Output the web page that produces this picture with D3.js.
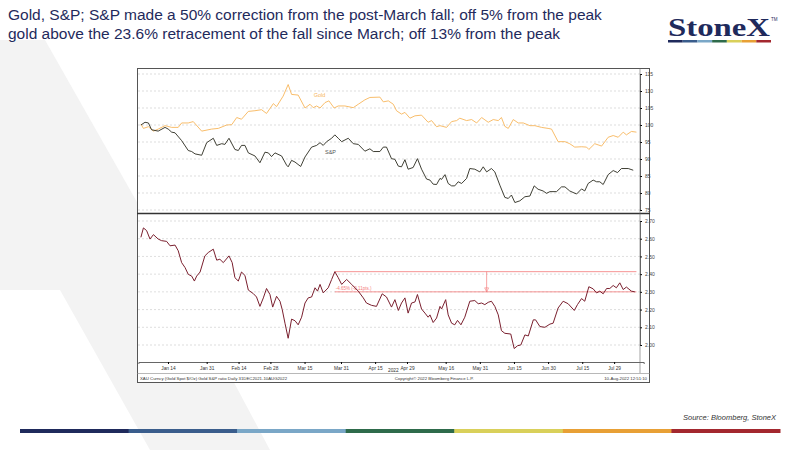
<!DOCTYPE html>
<html><head><meta charset="utf-8">
<script src="https://cdn.jsdelivr.net/npm/d3@7"></script>
<style>body{margin:0;background:#fff;font-family:Arial,"Liberation Sans",sans-serif}</style>
</head><body>
<script>
// days since 1 Jan 2022
const goldDays = [1.1,2.2,4.4,6.6,8.7,11.7,14.6,17.5,19,21.9,24.1,27.8,32.2,35.1,38.8,41,43.2,45.3,48.3,51.2,54.1,56.3,59.3,60.7,63.6,65.8,67.3,70.2,73.2,75.4,76.8,78.3,79.8,82,83.7,86,87.8,90.7,94.4,96.6,99.5,101.7,106.1,107.6,109.8,112,113.4,115.6,117.1,119.3,121.5,124.4,127.3,128.8,131,132.5,135.4,137.6,139.8,141.2,144.2,146.4,148.6,150.8,153.7,155.9,158.1,159.5,161,162.5,164.7,166.9,169.1,172,174.2,177.1,180,181.5,184.4,187.4,189.5,191.7,194.7,196.9,197.9,200.5,203.5,206.4,208.6,210.8,213,214.4,216.6,218.8];
const goldVals = [100.3,99,99.5,98.2,98.8,99.8,99.3,99.3,100.6,100.6,101,98.2,98.8,99,100,100.1,102.2,101.7,104,104.2,104.5,103.4,106.3,105.4,108.5,111.9,109,108.8,105,106.1,105.1,105.6,105,106.6,107.1,105,105.6,105.6,105.1,106.1,107.4,108.1,108.2,106.8,107.1,106.1,104.2,103.2,103.7,102,102.7,102.9,100.8,101.3,99.5,99.8,99.3,101,101.3,102,101.3,101.6,100.6,102.2,100.8,101.6,101.3,102.2,99.6,99,101.6,100.6,100.6,99.8,99.8,99.3,99,98.8,95.1,95.1,94.5,93.5,93.6,93.5,92.8,94.5,93.8,96.4,96.9,96.4,97.9,97.1,98.1,97.9];
const spxDays = [1.1,2.9,4.4,5.8,8.7,11.7,13.1,14.6,16.1,19,21.9,23.4,24.9,27.8,30,32.9,34.4,36.6,38,39.8,42.4,43.9,45.3,46.8,48.3,51.2,53.4,55.6,57.1,58.5,60,62.9,65.1,65.8,67.3,68.8,71.3,73.2,76.1,78.3,79.8,81.2,82.7,84.9,86.3,87.8,89.3,92.2,94.4,96.6,99.5,101.7,103.2,106.1,107.6,109,111.2,112.7,114.2,115.6,117.1,118.5,120.7,122.6,124.4,126.6,128.1,129.5,131,132.5,133.2,134.7,136.1,137.6,139,140.5,142,144.2,145.6,147.8,150,151.5,153,155.1,156.6,158.8,161,162.5,163.9,165.4,167.6,169.8,172,173.9,175.6,177.8,179.3,180.8,183.7,185.9,187.4,189.5,192.5,194.7,196.1,197.6,199.8,201.3,202.7,204.2,206.4,208.6,210.5,212.2,215.2,217.4];
const spxVals = [100,100.8,100.6,98.6,98.2,99.3,98.8,97.9,97.7,95.4,92.5,92.2,91.5,91.1,94.8,96.1,94,94.5,94.3,96.1,92.8,92.5,94,94,91.8,90.9,88.9,92,91.8,90.7,91.8,90.9,88.2,87.7,89.6,89.1,87.8,90.6,93.5,94,94.8,94,95.1,96.1,97.1,96.1,95.1,96.1,94.5,94.3,92.3,93,92.2,92.2,93.5,93.5,90.1,89.9,87.9,87.7,89.8,87,87.5,90.1,87,84.1,83.8,82.6,82.5,84.3,84,85.4,82.8,82.1,82.1,83.3,82.8,84.3,87.2,87,86.2,87.7,86.2,87.2,86.2,82.3,78.7,78.4,79.4,77.2,77.7,78.9,79.1,82.1,81.1,80.6,79.9,80.4,80.4,81.8,81.8,80.6,79.7,81.2,80.6,82.8,83.8,83.3,83.3,82.5,85.4,86.6,86,87.2,87.2,86.7];
const ratioDays = [1.1,2.2,3.6,5.1,6.6,8.7,10.2,12.4,13.9,16.1,17.5,19,20.5,21.9,23.4,24.6,25.6,27.1,29.2,30.7,32.9,34.4,35.8,37.3,39.8,41.2,42.4,43.9,45.3,46.8,48.3,50.5,51.9,53.4,54.9,56.3,57.8,59,60.7,62.2,63.2,64.4,65.8,67.3,68.8,70.2,71.7,73.2,74.6,76.1,77.6,78.7,79.8,81.2,83.4,84.9,86.3,87.8,89.3,91.5,93.7,96.6,98.8,100.2,102.4,104.6,107.1,109,111.2,112.7,114.2,115.6,117.1,118.5,120,121.5,122.6,124.4,125.9,127.3,128.1,129.5,131,132.5,133.2,135,136.1,137.6,139,140.2,141.7,143.4,145.6,147.8,149.3,150.8,152.2,153.7,155.1,156.6,158.1,159.5,161,163.6,165.1,166.6,168,169.8,171.3,173.5,174.5,176.4,178.6,180.8,182.2,184.4,186.6,188.8,191.5,192.9,194.7,196.1,197.9,199.8,201.3,202.7,204.2,205.7,207.1,208.6,210,211.5,213,214.4,216.6,218.1];
const ratioVals = [2.608,2.661,2.646,2.598,2.623,2.598,2.589,2.585,2.56,2.564,2.532,2.465,2.437,2.399,2.389,2.361,2.389,2.412,2.503,2.522,2.541,2.479,2.484,2.465,2.503,2.465,2.38,2.361,2.412,2.393,2.31,2.29,2.271,2.218,2.266,2.319,2.285,2.214,2.275,2.247,2.199,2.123,2.038,2.146,2.137,2.114,2.157,2.237,2.266,2.271,2.323,2.304,2.342,2.294,2.323,2.37,2.414,2.38,2.342,2.37,2.342,2.304,2.266,2.237,2.224,2.218,2.289,2.271,2.214,2.256,2.195,2.237,2.266,2.18,2.237,2.243,2.285,2.203,2.18,2.157,2.17,2.127,2.152,2.218,2.203,2.256,2.17,2.123,2.114,2.139,2.114,2.157,2.247,2.251,2.233,2.237,2.228,2.241,2.247,2.218,2.17,2.081,2.066,2.062,1.98,1.996,2.0,2.057,2.051,2.142,2.142,2.104,2.1,2.118,2.123,2.209,2.247,2.233,2.195,2.228,2.262,2.247,2.329,2.317,2.294,2.304,2.289,2.319,2.319,2.336,2.323,2.351,2.313,2.327,2.304,2.30];
const tickDays = [13,30,44,58,73,89,104,118,135,150,165,180,195,209];
const tickLabels = ["Jan 14","Jan 31","Feb 14","Feb 28","Mar 15","Mar 31","Apr 15","Apr 29","May 16","May 31","Jun 15","Jun 30","Jul 15","Jul 29"];
const topTicks = [75,80,85,90,95,100,105,110,115];
const botTicks = [2.0,2.1,2.2,2.3,2.4,2.5,2.6,2.7];
const retrace = {fromDay: 86.3, toDay: 218.8, high: 2.414, low: 2.30, arrowDay: 153};
const barColors = ["#1f2a5c","#3a5d8c","#7aa7c7","#2e6b4b","#d9d05a","#e8a035","#a3282f"];

const W = 800, H = 450;
const svg = d3.select("body").append("svg").attr("width", W).attr("height", H);

// background chevron
svg.append("polygon").attr("points","0,40 45,40 150,225 0,225").attr("fill","#f3f3f3");
svg.append("polygon").attr("points","0,225 150,225 270,450 150,450 60,290 0,290").attr("fill","#f3f3f3");

svg.append("text").attr("x",8).attr("y",20).attr("font-size",15.5).attr("fill","#1f2a5c")
  .text("Gold, S&P; S&P made a 50% correction from the post-March fall; off 5% from the peak");
svg.append("text").attr("x",8).attr("y",39).attr("font-size",15.5).attr("fill","#1f2a5c")
  .text("gold above the 23.6% retracement of the fall since March; off 13% from the peak");

// logo
svg.append("text").attr("x",668).attr("y",36).attr("font-family","Liberation Serif,serif")
  .attr("font-weight","bold").attr("font-size",25).attr("textLength",102).attr("lengthAdjust","spacingAndGlyphs")
  .attr("fill","#1f2a5c").text("StoneX");
svg.append("text").attr("x",771).attr("y",21).attr("font-size",4.5).attr("fill","#1f2a5c").text("TM");
const lx = d3.scaleBand().domain(d3.range(7)).range([668,771]);
svg.selectAll(".lb").data(barColors).enter().append("rect")
  .attr("x",(d,i)=>lx(i)).attr("y",40).attr("width",lx.bandwidth()).attr("height",2.5).attr("fill",d=>d);

// bottom bar
const bx = d3.scaleBand().domain(d3.range(7)).range([20,780]);
svg.selectAll(".bb").data(barColors).enter().append("rect")
  .attr("x",(d,i)=>bx(i)).attr("y",429).attr("width",bx.bandwidth()+0.5).attr("height",4).attr("fill",d=>d);
svg.append("text").attr("x",776).attr("y",420).attr("text-anchor","end").attr("font-size",7.5)
  .attr("font-style","italic").attr("fill","#333").text("Source: Bloomberg, StoneX");

// chart frame
svg.append("rect").attr("x",137.5).attr("y",68.5).attr("width",512).attr("height",314).attr("fill","#fff").attr("stroke","#555");
svg.append("line").attr("x1",137).attr("x2",650).attr("y1",213.5).attr("y2",213.5).attr("stroke","#333").attr("stroke-width",1.5);
svg.append("line").attr("x1",137).attr("x2",650).attr("y1",373.5).attr("y2",373.5).attr("stroke","#888").attr("stroke-width",0.6);

const x = d3.scaleLinear().domain([0,222]).range([138.4,643.7]);
const yTop = d3.scaleLinear().domain([75,115]).range([210,74]);
const yBot = d3.scaleLinear().domain([2.0,2.7]).range([345,221]);
const axisX = 640;

function grid(scale, ticks, fmt) {
  const g = svg.append("g");
  g.selectAll("line").data(ticks).enter().append("line")
    .attr("x1",138).attr("x2",axisX).attr("y1",d=>scale(d)).attr("y2",d=>scale(d))
    .attr("stroke","#c8c8c8").attr("stroke-width",0.6).attr("stroke-dasharray","2,2");
  const ax = svg.append("g").attr("transform",`translate(${axisX},0)`)
    .call(d3.axisRight(scale).tickValues(ticks).tickSize(2).tickFormat(fmt));
  ax.select(".domain").attr("stroke","#666");
  ax.selectAll("text").attr("font-size",5).attr("fill","#444");
}
grid(yTop, topTicks, d3.format("d"));
grid(yBot, botTicks, d3.format(".2f"));
svg.append("line").attr("x1",axisX).attr("x2",axisX).attr("y1",68).attr("y2",373).attr("stroke","#666").attr("stroke-width",0.6);

const line = (days, yScale) => d3.line().x((d,i)=>x(days[i])).y(d=>yScale(d));
svg.append("path").datum(goldVals).attr("d",line(goldDays,yTop)).attr("fill","none").attr("stroke","#f7b55a").attr("stroke-width",0.9);
svg.append("path").datum(spxVals).attr("d",line(spxDays,yTop)).attr("fill","none").attr("stroke","#2a2a1e").attr("stroke-width",0.9);
svg.append("text").attr("x",x(77)).attr("y",yTop(108.3)).attr("font-size",5.5).attr("fill","#f7b55a").text("Gold");
svg.append("text").attr("x",x(82)).attr("y",yTop(91.5)).attr("font-size",5.5).attr("fill","#555").text("S&P");

// retracement
["high","low"].forEach(k => svg.append("line").attr("x1",x(retrace.fromDay)).attr("x2",x(retrace.toDay))
  .attr("y1",yBot(retrace[k])).attr("y2",yBot(retrace[k])).attr("stroke","#f47a7a").attr("stroke-width",0.8));
svg.append("line").attr("x1",x(retrace.arrowDay)).attr("x2",x(retrace.arrowDay))
  .attr("y1",yBot(retrace.high)).attr("y2",yBot(retrace.low)).attr("stroke","#f47a7a").attr("stroke-width",0.7);
svg.append("path").attr("d",`M${x(retrace.arrowDay)-2},${yBot(retrace.low)-4}L${x(retrace.arrowDay)+2},${yBot(retrace.low)-4}L${x(retrace.arrowDay)},${yBot(retrace.low)}Z`)
  .attr("fill","none").attr("stroke","#f47a7a").attr("stroke-width",0.6);
svg.append("text").attr("x",x(retrace.fromDay)+1).attr("y",yBot(retrace.low)-1.5).attr("font-size",4.5).attr("fill","#f47a7a")
  .text("-4.65% (-0.11pts.)");

svg.append("path").datum(ratioVals).attr("d",line(ratioDays,yBot)).attr("fill","none").attr("stroke","#7a1f2e").attr("stroke-width",1);

// x axis
const xa = svg.append("g").attr("transform","translate(0,362)")
  .call(d3.axisBottom(x).tickValues(tickDays).tickSize(2).tickFormat((d,i)=>tickLabels[i]));
xa.select(".domain").attr("stroke","#666");
xa.selectAll("text").attr("font-size",4.8).attr("fill","#333");
svg.append("text").attr("x",x(112)).attr("y",372).attr("text-anchor","middle").attr("font-size",4.8).attr("fill","#333").text("2022");
svg.append("text").attr("x",140).attr("y",379.5).attr("font-size",4.3).attr("fill","#333")
  .text("XAU Curncy (Gold Spot   $/Oz) Gold S&P ratio  Daily 31DEC2021-10AUG2022");
svg.append("text").attr("x",x(130)).attr("y",379.5).attr("text-anchor","middle").attr("font-size",4.3).attr("fill","#333")
  .text("Copyright© 2022 Bloomberg Finance L.P.");
svg.append("text").attr("x",647).attr("y",379.5).attr("text-anchor","end").attr("font-size",4.3).attr("fill","#333")
  .text("10-Aug-2022 12:51:10");
</script>
</body></html>
